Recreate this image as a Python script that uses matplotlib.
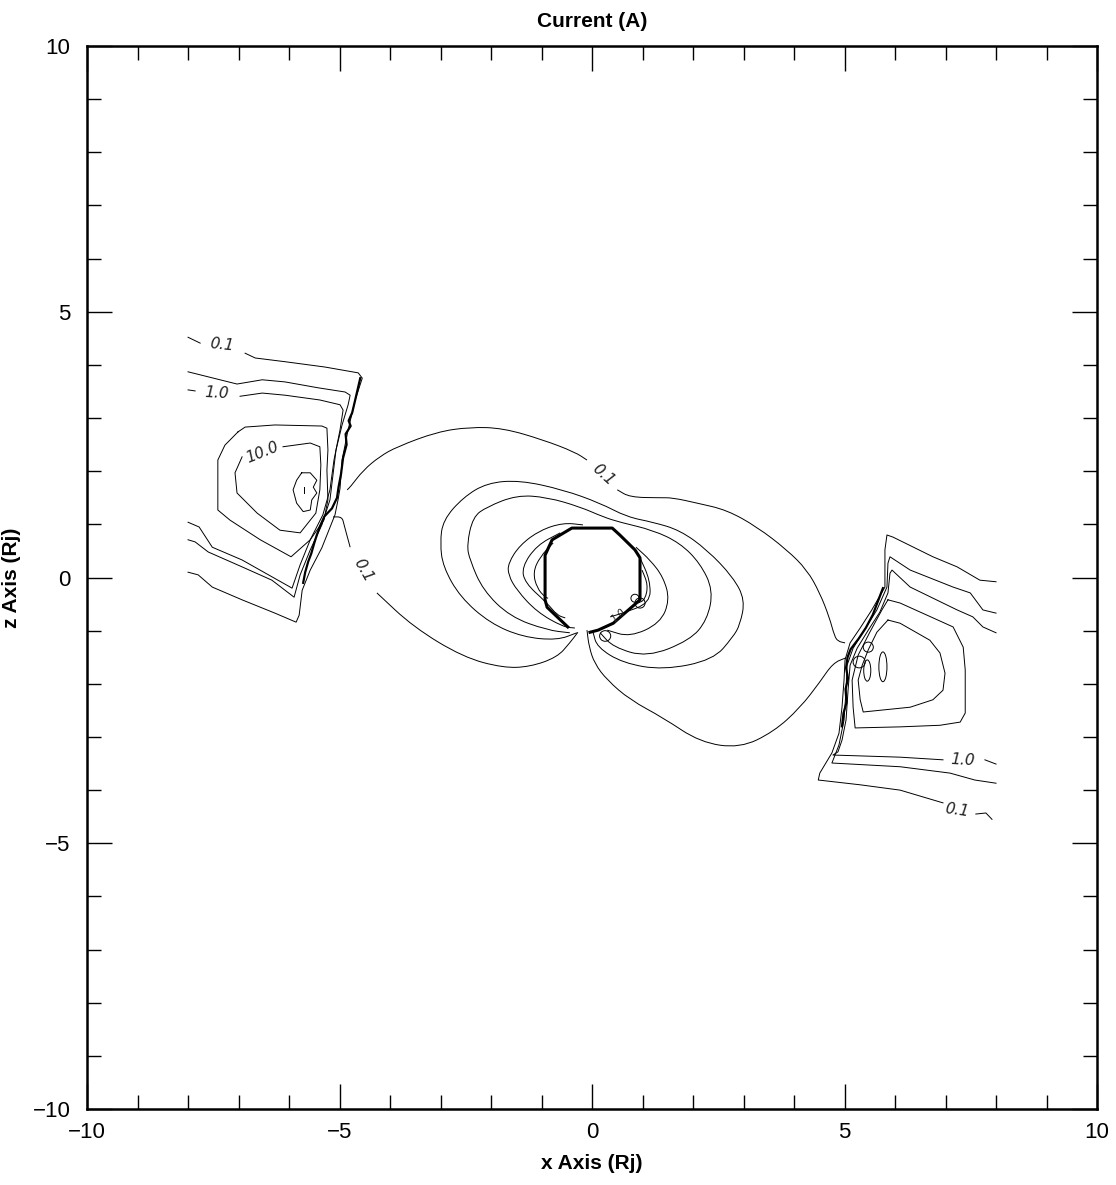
import numpy as np
import matplotlib
matplotlib.use('Agg')
import matplotlib.pyplot as plt
from matplotlib.patches import Ellipse, PathPatch
from matplotlib.path import Path
from matplotlib.ticker import MultipleLocator

plt.rcParams['font.family'] = ['Liberation Sans', 'DejaVu Sans']

# contour lines, (x, z) in Rj; each level is a list of pieces
# (pieces are broken where the inline labels sit)

# --- left feature ---
left_01 = [
    [(-8.0, 4.52), (-7.76, 4.41)],
    [(-6.87, 4.22), (-6.67, 4.13), (-6.08, 4.06), (-5.29, 3.96), (-4.63, 3.85), (-4.55, 3.75),
     (-4.69, 3.34), (-4.83, 2.78), (-4.95, 2.21), (-4.99, 1.68), (-5.03, 1.46), (-5.09, 1.18),
     (-5.35, 0.56), (-5.58, 0.14), (-5.74, -0.24), (-5.80, -0.71), (-5.86, -0.84),
     (-6.28, -0.67), (-6.93, -0.42), (-7.52, -0.18), (-7.80, 0.05), (-8.0, 0.10)],
]
left_03 = [
    [(-8.0, 3.87), (-7.03, 3.64), (-6.53, 3.72), (-6.08, 3.68), (-5.43, 3.57), (-4.89, 3.49),
     (-4.79, 3.43), (-4.83, 3.25), (-4.95, 2.87), (-5.07, 2.40), (-5.13, 1.93), (-5.19, 1.46),
     (-5.35, 0.99), (-5.58, 0.52), (-5.78, 0.05), (-5.90, -0.37), (-6.34, -0.05),
     (-6.93, 0.20), (-7.60, 0.48), (-7.86, 0.67), (-8.0, 0.71)],
]
left_10 = [
    [(-8.0, 3.53), (-7.86, 3.51)],
    [(-6.97, 3.41), (-6.53, 3.47), (-6.08, 3.43), (-5.39, 3.34), (-4.99, 3.25), (-4.93, 3.15),
     (-4.99, 2.78), (-5.11, 2.21), (-5.19, 1.65), (-5.33, 1.18), (-5.58, 0.71), (-5.78, 0.24),
     (-5.94, -0.20), (-6.93, 0.33), (-7.52, 0.57), (-7.78, 0.95), (-8.0, 1.04)],
]
left_30 = [
    [(-7.01, 2.74), (-6.87, 2.83), (-6.28, 2.87), (-5.35, 2.85), (-5.25, 2.81), (-5.23, 2.40),
     (-5.25, 2.02), (-5.23, 1.46), (-5.31, 1.08), (-5.58, 0.71), (-5.96, 0.39), (-6.57, 0.71),
     (-7.17, 1.08), (-7.41, 1.27), (-7.41, 2.21), (-7.27, 2.49), (-7.01, 2.74)],
]
left_100 = [
    [(-6.12, 2.46), (-5.58, 2.53), (-5.39, 2.46), (-5.37, 2.12), (-5.39, 1.65), (-5.47, 1.21),
     (-5.78, 0.84), (-6.18, 0.89), (-6.63, 1.21), (-7.03, 1.59), (-7.07, 1.97), (-6.93, 2.27)],
    [(-5.75, 1.97), (-5.58, 1.97), (-5.45, 1.83), (-5.52, 1.70), (-5.45, 1.59), (-5.55, 1.46),
     (-5.58, 1.27), (-5.72, 1.24), (-5.85, 1.40), (-5.92, 1.65), (-5.85, 1.83), (-5.75, 1.97)],
    [(-5.70, 1.70), (-5.70, 1.59)],
]
left_wall = [(-4.59, 3.75), (-4.70, 3.30), (-4.75, 3.10), (-4.82, 2.95), (-4.78, 2.85),
             (-4.88, 2.70), (-4.86, 2.50), (-4.93, 2.25), (-4.97, 1.95), (-5.02, 1.70),
             (-5.05, 1.50), (-5.15, 1.30), (-5.30, 1.15), (-5.38, 0.98), (-5.45, 0.80),
             (-5.50, 0.65), (-5.56, 0.45), (-5.62, 0.30), (-5.68, 0.10), (-5.72, -0.10)]

# --- central dipole ---
center_01 = [
    [(-4.85, 1.65), (-4.79, 1.70), (-4.53, 2.02), (-4.20, 2.28), (-3.86, 2.46), (-3.07, 2.74),
     (-2.42, 2.83), (-1.76, 2.81), (-0.97, 2.59), (-0.34, 2.36), (-0.10, 2.21)],
    [(0.50, 1.65), (0.75, 1.51), (1.35, 1.50), (1.60, 1.50), (2.08, 1.40), (2.67, 1.27),
     (3.27, 0.95), (3.86, 0.52), (4.26, 0.14), (4.51, -0.29), (4.70, -0.75), (4.80, -1.10),
     (4.87, -1.20), (5.01, -1.23)],
    [(-5.13, 1.14), (-4.95, 1.14), (-4.91, 0.99), (-4.79, 0.57)],
    [(-4.26, -0.29), (-3.54, -0.93), (-2.55, -1.50), (-1.76, -1.70), (-1.23, -1.68),
     (-0.69, -1.50), (-0.44, -1.23), (-0.28, -1.03)],
    [(-0.10, -0.99), (-0.06, -1.30), (0.05, -1.62), (0.30, -1.93), (0.75, -2.30), (1.41, -2.64),
     (2.14, -3.10), (2.93, -3.21), (3.60, -2.90), (4.12, -2.45), (4.51, -1.97), (4.77, -1.61),
     (5.03, -1.51)],
]
center_03 = [
    [(-0.30, -1.04), (-0.69, -1.18), (-1.37, -1.12), (-2.02, -0.86), (-2.61, -0.37),
     (-2.95, 0.20), (-3.01, 0.65), (-2.95, 1.08), (-2.55, 1.51), (-2.08, 1.78), (-1.43, 1.83),
     (-0.57, 1.65), (0.16, 1.40), (0.69, 1.14), (1.21, 1.04), (1.74, 0.89), (2.28, 0.52),
     (2.79, 0.01), (3.03, -0.42), (2.93, -0.89), (2.79, -1.12), (2.40, -1.55), (1.41, -1.74),
     (0.61, -1.61), (0.10, -1.31), (0.02, -1.03)],
]
center_10 = [
    [(-0.44, -1.04), (-0.89, -0.99), (-1.62, -0.74), (-2.16, -0.24), (-2.42, 0.33),
     (-2.48, 0.61), (-2.36, 1.14), (-2.08, 1.33), (-1.49, 1.55), (-0.89, 1.51), (-0.24, 1.33),
     (0.22, 1.14), (0.55, 1.04), (1.21, 0.89), (1.74, 0.65), (2.14, 0.27), (2.40, -0.24),
     (2.28, -0.80), (1.94, -1.18), (1.09, -1.50), (0.42, -1.31), (0.16, -1.04)],
]
center_30 = [
    [(-0.18, 0.99), (-0.57, 1.03), (-1.03, 0.89), (-1.43, 0.61), (-1.66, 0.27), (-1.66, 0.05),
     (-1.49, -0.24), (-1.09, -0.65), (-0.57, -0.93), (-0.34, -0.95)],
    [(0.87, 0.57), (1.15, 0.33), (1.41, 0.01), (1.54, -0.42), (1.35, -0.86), (0.75, -1.12),
     (0.30, -0.99)],
]
center_100 = [
    [(-0.63, 0.84), (-1.09, 0.61), (-1.39, 0.20), (-1.33, -0.10), (-0.89, -0.48),
     (-0.69, -0.71), (-0.53, -0.76)],
    [(0.95, 0.37), (1.15, -0.05), (1.15, -0.48), (0.61, -0.67), (0.36, -0.74)],
]
center_300 = [
    [(-0.77, 0.65), (-1.03, 0.39), (-1.17, 0.10), (-1.09, -0.20), (-0.93, -0.37), (-0.87, -0.39)],
    [(0.99, 0.14), (1.11, -0.14), (1.05, -0.42), (0.91, -0.48)],
]
body_edge = [(-0.48, -0.93), (-0.89, -0.56), (-0.93, -0.42), (-0.93, 0.42), (-0.79, 0.71),
             (-0.40, 0.93), (0.40, 0.93), (0.55, 0.80), (0.85, 0.52), (0.95, 0.37),
             (0.95, -0.42), (0.42, -0.86), (0.12, -0.99), (-0.04, -1.03)]
# small closed loops: centre x, centre z, width, height
center_loops = [(0.85, -0.39, 0.16, 0.15), (0.95, -0.48, 0.20, 0.19), (0.26, -1.10, 0.22, 0.20)]

# --- right feature ---
right_01 = [
    [(8.0, -0.08), (7.68, -0.05), (7.23, 0.20), (6.75, 0.39), (5.96, 0.76), (5.84, 0.80),
     (5.80, 0.52), (5.80, -0.18), (5.54, -0.61), (5.31, -0.95), (5.11, -1.23), (5.01, -1.55),
     (4.99, -1.93), (4.95, -2.44), (4.89, -2.93), (4.75, -3.30), (4.51, -3.68), (4.48, -3.81),
     (5.31, -3.90), (6.10, -4.00), (6.95, -4.24)],
    [(7.60, -4.45), (7.80, -4.43), (7.92, -4.55)],
]
right_03 = [
    [(8.0, -0.67), (7.74, -0.61), (7.49, -0.29), (7.15, -0.18), (6.30, 0.14), (5.90, 0.39),
     (5.86, 0.27), (5.84, -0.18), (5.64, -0.61), (5.39, -0.99), (5.17, -1.33), (5.05, -1.65),
     (5.03, -2.12), (4.99, -2.68), (4.89, -3.15), (4.75, -3.49), (6.10, -3.56), (7.09, -3.68),
     (7.58, -3.81), (8.0, -3.87)],
]
right_10 = [
    [(8.0, -1.04), (7.74, -0.93), (7.54, -0.74), (7.23, -0.61), (6.30, -0.18), (5.94, 0.14),
     (5.90, 0.08), (5.86, -0.29), (5.70, -0.65), (5.47, -0.99), (5.25, -1.33), (5.11, -1.65),
     (5.07, -2.12), (5.03, -2.68), (4.95, -3.06), (4.87, -3.28), (4.77, -3.34), (6.10, -3.38),
     (6.95, -3.43)],
    [(7.78, -3.43), (8.0, -3.51)],
]
right_30 = [
    [(5.86, -0.42), (6.10, -0.48), (7.15, -0.93), (7.35, -1.31), (7.39, -1.74), (7.39, -2.55),
     (7.29, -2.72), (6.89, -2.78), (6.10, -2.81), (5.21, -2.83), (5.17, -2.44), (5.15, -1.93),
     (5.27, -1.46), (5.50, -1.03), (5.74, -0.61), (5.86, -0.42)],
]
right_100 = [
    [(5.86, -0.80), (6.10, -0.86), (6.69, -1.18), (6.89, -1.42), (6.99, -1.80), (6.95, -2.12),
     (6.75, -2.30), (6.30, -2.44), (5.37, -2.53), (5.31, -2.30), (5.27, -1.93), (5.35, -1.65),
     (5.47, -1.36), (5.64, -1.03), (5.86, -0.80)],
]
right_loops = [(5.47, -1.31, 0.20, 0.19), (5.29, -1.59, 0.24, 0.22),
               (5.76, -1.68, 0.16, 0.56), (5.45, -1.75, 0.14, 0.40)]
right_wall = [(5.76, -0.20), (5.66, -0.45), (5.56, -0.70), (5.42, -0.95), (5.28, -1.15),
              (5.12, -1.35), (5.06, -1.50), (5.03, -1.70), (5.07, -1.90), (5.02, -2.10),
              (5.04, -2.35), (4.98, -2.55), (4.95, -2.80)]

# inline labels: text, x, z, rotation, size
label_text = ['0.1', '1.0', '10.0', '0.1', '0.1', '1.0', '0.1', '1.0']
label_x = [-7.33, -7.43, -6.53, 0.22, -4.53, 7.33, 7.23, 0.52]
label_z = [4.37, 3.47, 2.36, 1.93, 0.14, -3.43, -4.37, -0.72]
label_rot = [-6, -3, 22, -42, -60, -3, -8, 40]
label_size = [11, 11, 11, 11, 11, 11, 11, 7]

tick_vals = [-10, -5, 0, 5, 10]


def draw_pieces(ax, pieces, lw=0.7):
    for piece in pieces:
        pts = np.array(piece)
        ax.plot(pts[:, 0], pts[:, 1], color='black', lw=lw, solid_joinstyle='round')


def draw_smooth(ax, pieces, lw=0.7):
    # rounded corners: quadratic bezier through midpoints, read points as controls
    for piece in pieces:
        pts = np.array(piece, dtype=float)
        if len(pts) < 3:
            ax.plot(pts[:, 0], pts[:, 1], color='black', lw=lw)
            continue
        mids = (pts[:-1] + pts[1:]) / 2
        verts = [pts[0], mids[0]]
        codes = [Path.MOVETO, Path.LINETO]
        for i in range(1, len(pts) - 1):
            verts += [pts[i], mids[i]]
            codes += [Path.CURVE3, Path.CURVE3]
        verts.append(pts[-1])
        codes.append(Path.LINETO)
        ax.add_patch(PathPatch(Path(verts, codes), fill=False, edgecolor='black', lw=lw))


def draw_loops(ax, loops, lw=0.7):
    for cx, cz, w, h in loops:
        ax.add_patch(Ellipse((cx, cz), w, h, fill=False, edgecolor='black', lw=lw))


def main():
    fig = plt.figure(figsize=(11.16, 11.85), dpi=100)
    ax = fig.add_axes([0.078, 0.0641, 0.905, 0.8971])

    for pieces in [left_01, left_03, left_10, left_30, left_100,
                   right_01, right_03, right_10, right_30, right_100]:
        draw_pieces(ax, pieces)
    for pieces in [center_01, center_03, center_10, center_30, center_100, center_300]:
        draw_smooth(ax, pieces)
    draw_pieces(ax, [left_wall, right_wall], lw=1.6)
    draw_pieces(ax, [body_edge], lw=2.2)
    draw_loops(ax, center_loops)
    draw_loops(ax, right_loops)

    for t, x, z, r, s in zip(label_text, label_x, label_z, label_rot, label_size):
        ax.text(x, z, t, rotation=r, fontsize=s, fontstyle='italic', color='#222222',
                ha='center', va='center', family=['DejaVu Sans'])

    ax.set_xlim(-10, 10)
    ax.set_ylim(-10, 10)
    ax.set_xticks(tick_vals)
    ax.set_yticks(tick_vals)
    ax.set_xticklabels(['\u221210', '\u22125', '0', '5', '10'])
    ax.set_yticklabels(['\u221210', '\u22125', '0', '5', '10'])
    ax.xaxis.set_minor_locator(MultipleLocator(1))
    ax.yaxis.set_minor_locator(MultipleLocator(1))
    ax.tick_params(which='both', direction='in', top=True, right=True, width=1.0)
    ax.tick_params(which='major', length=18, labelsize=16)
    ax.tick_params(which='minor', length=10)
    ax.tick_params(axis='x', which='major', pad=9)
    ax.tick_params(axis='y', which='major', pad=12)
    for sp in ax.spines.values():
        sp.set_linewidth(1.8)

    ax.set_title('Current (A)', fontsize=15, fontweight='bold', pad=14)
    ax.set_xlabel('x Axis (Rj)', fontsize=15, fontweight='bold', labelpad=8)
    ax.set_ylabel('z Axis (Rj)', fontsize=15, fontweight='bold', labelpad=8)

    fig.savefig('out.png', dpi=100)


if __name__ == '__main__':
    main()
